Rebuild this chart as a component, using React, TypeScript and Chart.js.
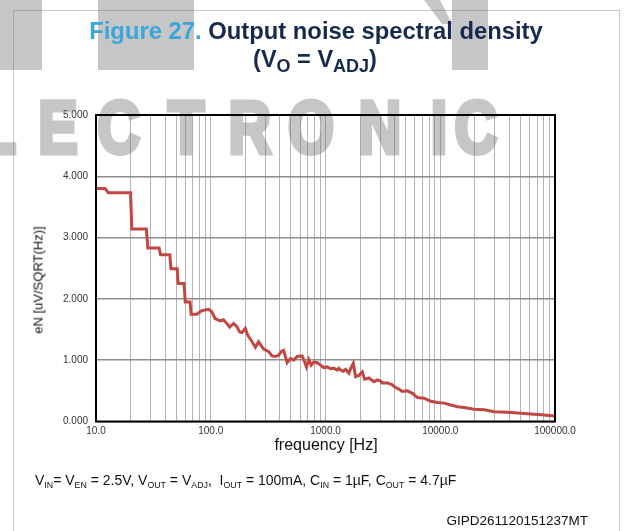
import React, { useEffect, useRef } from 'react';
import { Chart, registerables } from 'chart.js';

Chart.register(...registerables);

// ---- data ----
const frequencyHz = [
  10, 12, 12.8, 20, 20.5, 27.5, 28.3, 35.5, 36.5, 44, 45, 51, 52, 58.5, 60, 66, 67.5, 75.7,
  83.7, 95.7, 102, 109, 121, 129, 138, 146, 158, 167, 179, 187, 200, 210, 229, 245, 261,
  289, 320, 342, 366, 391, 410, 432, 463, 495, 529, 566, 626, 656, 683, 715, 750, 791,
  847, 904, 967, 1035, 1106, 1182, 1265, 1306, 1352, 1428, 1496, 1599, 1653, 1746, 1829,
  1955, 2093, 2193, 2389, 2642, 2831, 3020, 3126, 3456, 3828, 3954, 4230, 4519, 4677,
  5171, 5715, 6320, 7224, 8265, 9462, 10800, 12360, 14130, 16140, 19730, 24150, 29500,
  38640, 53950, 75470, 100000,
];
const noiseDensity = [
  3.8, 3.8, 3.73, 3.73, 3.14, 3.14, 2.83, 2.83, 2.72, 2.72, 2.49, 2.49, 2.25, 2.25, 1.95, 1.95, 1.75, 1.75,
  1.81, 1.83, 1.79, 1.68, 1.64, 1.66, 1.6, 1.54, 1.6, 1.56, 1.46, 1.45, 1.52, 1.41, 1.3, 1.21, 1.3,
  1.18, 1.14, 1.07, 1.06, 1.08, 1.14, 1.16, 0.96, 1.03, 1.0, 1.06, 1.07, 0.98, 0.89, 1.01, 0.92, 0.97,
  0.96, 0.92, 0.88, 0.89, 0.86, 0.87, 0.84, 0.87, 0.84, 0.82, 0.85, 0.79, 0.86, 0.95, 0.73,
  0.75, 0.81, 0.69, 0.71, 0.65, 0.68, 0.66, 0.63, 0.63, 0.6, 0.57, 0.54, 0.51, 0.49,
  0.5, 0.46, 0.39, 0.38, 0.33, 0.31, 0.3, 0.27, 0.24, 0.23, 0.2, 0.19, 0.16,
  0.15, 0.13, 0.11, 0.09,
];
const xDecades = [10, 100, 1000, 10000, 100000];
const yMin = 0;
const yMax = 5;
const yStep = 1;

const FONT = '"Liberation Sans", Arial, Helvetica, sans-serif';

const xGridTicks: number[] = [];
for (let i = 0; i < xDecades.length - 1; i++) {
  for (let m = 1; m <= 9; m++) xGridTicks.push(xDecades[i] * m);
}
xGridTicks.push(xDecades[xDecades.length - 1]);

const overlayPlugin = {
  id: 'overlay',
  afterDraw(chart: any) {
    const ctx = chart.ctx as CanvasRenderingContext2D;
    const a = chart.chartArea;
    // watermark, painted opaque off-screen and laid over with transparency
    const off = document.createElement('canvas');
    off.width = 626;
    off.height = 200;
    const o = off.getContext('2d') as CanvasRenderingContext2D;
    o.fillStyle = '#787878';
    o.strokeStyle = '#787878';
    o.fillRect(0, 0, 42, 70);
    o.fillRect(98, 0, 96, 70);
    o.beginPath();
    o.moveTo(424, 0);
    o.lineTo(440, 0);
    o.lineTo(452, 24);
    o.lineTo(442, 24);
    o.closePath();
    o.fill();
    o.fillRect(452, 0, 36, 70);
    o.font = `bold 74px ${FONT}`;
    o.textAlign = 'center';
    o.textBaseline = 'alphabetic';
    o.lineWidth = 5;
    o.lineJoin = 'miter';
    const letters: [string, number][] = [
      ['L', -2], ['E', 58], ['C', 119], ['T', 186], ['R', 250], ['O', 311], ['N', 380], ['I', 439], ['C', 476],
    ];
    letters.forEach(([ch, cx]) => {
      o.save();
      o.translate(cx, 153);
      o.scale(0.8, 1);
      o.fillText(ch, 0, 0);
      o.strokeText(ch, 0, 0);
      o.restore();
    });
    ctx.save();
    ctx.globalAlpha = 0.42;
    ctx.drawImage(off, 0, 0);
    ctx.globalAlpha = 1;
    // plot frame
    ctx.strokeStyle = '#000';
    ctx.lineWidth = 2;
    ctx.strokeRect(a.left, a.top, a.right - a.left, a.bottom - a.top);
    ctx.restore();
  },
};

export default function App() {
  const ref = useRef<HTMLCanvasElement | null>(null);

  useEffect(() => {
    if (!ref.current) return;
    const chart = new Chart(ref.current, {
      type: 'line',
      data: {
        datasets: [
          {
            data: frequencyHz.map((f, i) => ({ x: f, y: noiseDensity[i] })),
            borderColor: '#c24642',
            borderWidth: 3,
            pointRadius: 0,
            tension: 0,
            fill: false,
          },
        ],
      },
      options: {
        animation: false,
        responsive: false,
        maintainAspectRatio: false,
        layout: { padding: { left: 0, right: 71, top: 115, bottom: 89.5 } },
        plugins: { legend: { display: false }, tooltip: { enabled: false }, title: { display: false } },
        scales: {
          x: {
            type: 'logarithmic',
            min: xDecades[0],
            max: xDecades[xDecades.length - 1],
            afterBuildTicks: (s: any) => {
              s.ticks = xGridTicks.map((v) => ({ value: v }));
            },
            afterFit: (s: any) => {
              s.height = 20;
            },
            ticks: {
              autoSkip: false,
              maxRotation: 0,
              minRotation: 0,
              padding: 4,
              color: '#333',
              font: { family: FONT, size: 10 },
              callback: (v: any) => (xDecades.includes(Number(v)) ? Number(v).toFixed(1) : ''),
            },
            grid: { color: '#b4b4b4', lineWidth: 1, drawTicks: false },
            border: { display: false },
          },
          y: {
            type: 'linear',
            min: yMin,
            max: yMax,
            afterFit: (s: any) => {
              s.width = 96;
            },
            ticks: {
              stepSize: yStep,
              padding: 8,
              color: '#333',
              font: { family: FONT, size: 10 },
              callback: (v: any) => Number(v).toFixed(3),
            },
            grid: { color: '#8e8e8e', lineWidth: 1.5, drawTicks: false },
            border: { display: false },
          },
        },
      },
      plugins: [overlayPlugin],
    } as any);
    return () => chart.destroy();
  }, []);

  const abs: React.CSSProperties = { position: 'absolute', whiteSpace: 'nowrap', fontFamily: FONT };
  const sub: React.CSSProperties = { fontSize: 8.8, verticalAlign: '-3px' };

  return (
    <div
      style={{
        position: 'fixed',
        left: 0,
        top: 0,
        width: 626,
        height: 531,
        background: '#fff',
        overflow: 'hidden',
      }}
    >
      <div
        style={{
          position: 'absolute',
          left: 13,
          top: 10,
          width: 605,
          height: 540,
          border: '1.5px solid #c8c8c8',
        }}
      />
      <canvas ref={ref} width={626} height={531} style={{ position: 'absolute', left: 0, top: 0 }} />
      <div
        style={{
          ...abs,
          left: 0,
          width: 632,
          top: 19,
          textAlign: 'center',
          fontSize: 23.8,
          lineHeight: '24px',
          fontWeight: 'bold',
          color: '#152a4d',
        }}
      >
        <span style={{ color: '#3aa6dc' }}>Figure 27.</span> Output noise spectral density
      </div>
      <div
        style={{
          ...abs,
          left: 0,
          width: 630,
          top: 47,
          textAlign: 'center',
          fontSize: 23.5,
          lineHeight: '24px',
          fontWeight: 'bold',
          color: '#152a4d',
        }}
      >
        (V<span style={{ fontSize: 18, verticalAlign: '-5px' }}>O</span> = V
        <span style={{ fontSize: 18, verticalAlign: '-5px' }}>ADJ</span>)
      </div>
      <div
        style={{
          ...abs,
          left: 38,
          top: 280,
          fontSize: 13,
          lineHeight: '13px',
          color: '#111',
          transform: 'translate(-50%, -50%) rotate(-90deg)',
        }}
      >
        eN [uV/SQRT(Hz)]
      </div>
      <div
        style={{
          ...abs,
          left: 0,
          width: 652,
          top: 437,
          textAlign: 'center',
          fontSize: 16,
          lineHeight: '16px',
          color: '#111',
        }}
      >
        frequency [Hz]
      </div>
      <div style={{ ...abs, left: 35, top: 473, fontSize: 14, lineHeight: '14px', color: '#111' }}>
        V<sub style={sub}>IN</sub>= V<sub style={sub}>EN</sub> = 2.5V, V<sub style={sub}>OUT</sub> = V
        <sub style={sub}>ADJ</sub>,&nbsp; I<sub style={sub}>OUT</sub> = 100mA, C<sub style={sub}>IN</sub> = 1µF, C
        <sub style={sub}>OUT</sub> = 4.7µF
      </div>
      <div style={{ ...abs, right: 38, top: 514, fontSize: 13.5, lineHeight: '13.5px', color: '#111' }}>
        GIPD261120151237MT
      </div>
    </div>
  );
}
